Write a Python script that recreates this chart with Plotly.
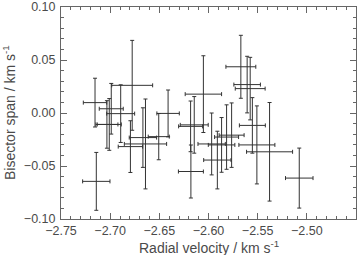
import plotly.graph_objects as go

# Radial velocity (km/s) and bisector span (km/s) with uncertainties
rv = [-2.7154, -2.7033, -2.7009, -2.6989, -2.6893, -2.6776, -2.6794, -2.6667,
      -2.6641, -2.6506, -2.6411, -2.7141, -2.6052, -2.5671, -2.5607, -2.5576,
      -2.5554, -2.5077, -2.6145, -2.6179, -2.5910, -2.5968, -2.5867, -2.5816,
      -2.5765, -2.5508, -2.5379, -2.6182]
bs = [0.0098, -0.0108, -0.0108, 0.0040, -0.0006, 0.0261, -0.0317, -0.0232,
      -0.0292, -0.0223, -0.0004, -0.0645, 0.0178, 0.0436, 0.0268, 0.0230,
      -0.0117, -0.0614, -0.0112, -0.0552, -0.0444, -0.0292, -0.0301, -0.0227,
      -0.0209, -0.0301, -0.0366, -0.0126]
rv_err = [0.0119, 0.0112, 0.0122, 0.0122, 0.0142, 0.0208, 0.0124, 0.0139,
          0.0215, 0.0107, 0.0114, 0.0139, 0.0185, 0.0152, 0.0135, 0.0152,
          0.0132, 0.0140, 0.0142, 0.0127, 0.0139, 0.0139, 0.0135, 0.0122,
          0.0127, 0.0183, 0.0234, 0.0122]
bs_err = [0.0230, 0.0224, 0.0244, 0.0239, 0.0272, 0.0424, 0.0244, 0.0281,
          0.0424, 0.0218, 0.0221, 0.0273, 0.0362, 0.0297, 0.0267, 0.0295,
          0.0262, 0.0283, 0.0267, 0.0250, 0.0272, 0.0292, 0.0258, 0.0304,
          0.0304, 0.0368, 0.0465, 0.0239]

x_ticks = [-2.75, -2.70, -2.65, -2.60, -2.55, -2.50]
y_ticks = [-0.10, -0.05, 0.00, 0.05, 0.10]
x_title = "Radial velocity / km s<sup>-1</sup>"
y_title = "Bisector span / km s<sup>-1</sup>"

LINE = "#333333"
FRAME = "#666666"
TEXT = "#4a4a4a"
FONT = "Liberation Sans, Arial, sans-serif"

fig = go.Figure(go.Scatter(
    x=rv, y=bs, mode="markers",
    marker=dict(size=0.1, color=LINE, opacity=0),
    error_x=dict(type="data", array=rv_err, color=LINE, thickness=1, width=2),
    error_y=dict(type="data", array=bs_err, color=LINE, thickness=1, width=2),
    showlegend=False, hoverinfo="skip",
))

axis_common = dict(
    showline=True, linecolor=FRAME, linewidth=1, mirror="allticks",
    ticks="inside", ticklen=6, tickwidth=1, tickcolor=FRAME,
    showgrid=False, zeroline=False, tickformat=".2f",
    tickfont=dict(family=FONT, size=12.5, color=TEXT),
    automargin=False, ticklabeloverflow="allow",
)

fig.update_xaxes(
    range=[-2.75, -2.45], tickvals=x_ticks, ticklabelstandoff=0,
    minor=dict(dtick=0.01, tick0=-2.75, ticks="inside", ticklen=3, tickcolor=FRAME, showgrid=False),
    **axis_common,
)
fig.update_yaxes(
    range=[-0.10, 0.10], tickvals=y_ticks, ticklabelstandoff=2,
    minor=dict(dtick=0.01, tick0=0, ticks="inside", ticklen=3, tickcolor=FRAME, showgrid=False),
    **axis_common,
)

fig.add_annotation(
    text=x_title, xref="paper", yref="paper", x=0.5, y=0, yshift=-28,
    xanchor="center", yanchor="middle", showarrow=False,
    font=dict(family=FONT, size=14, color=TEXT),
)
fig.add_annotation(
    text=y_title, xref="paper", yref="paper", x=0, y=0.5, xshift=-52,
    xanchor="center", yanchor="middle", textangle=-90, showarrow=False,
    font=dict(family=FONT, size=14, color=TEXT),
)

fig.update_layout(
    width=360, height=255,
    margin=dict(l=61, r=4, t=7, b=36),
    paper_bgcolor="white", plot_bgcolor="white",
)

fig.write_html(
    "out.html",
    config={"displayModeBar": False, "staticPlot": True},
    post_script="document.body.style.margin='0';document.body.style.overflow='hidden';",
)
